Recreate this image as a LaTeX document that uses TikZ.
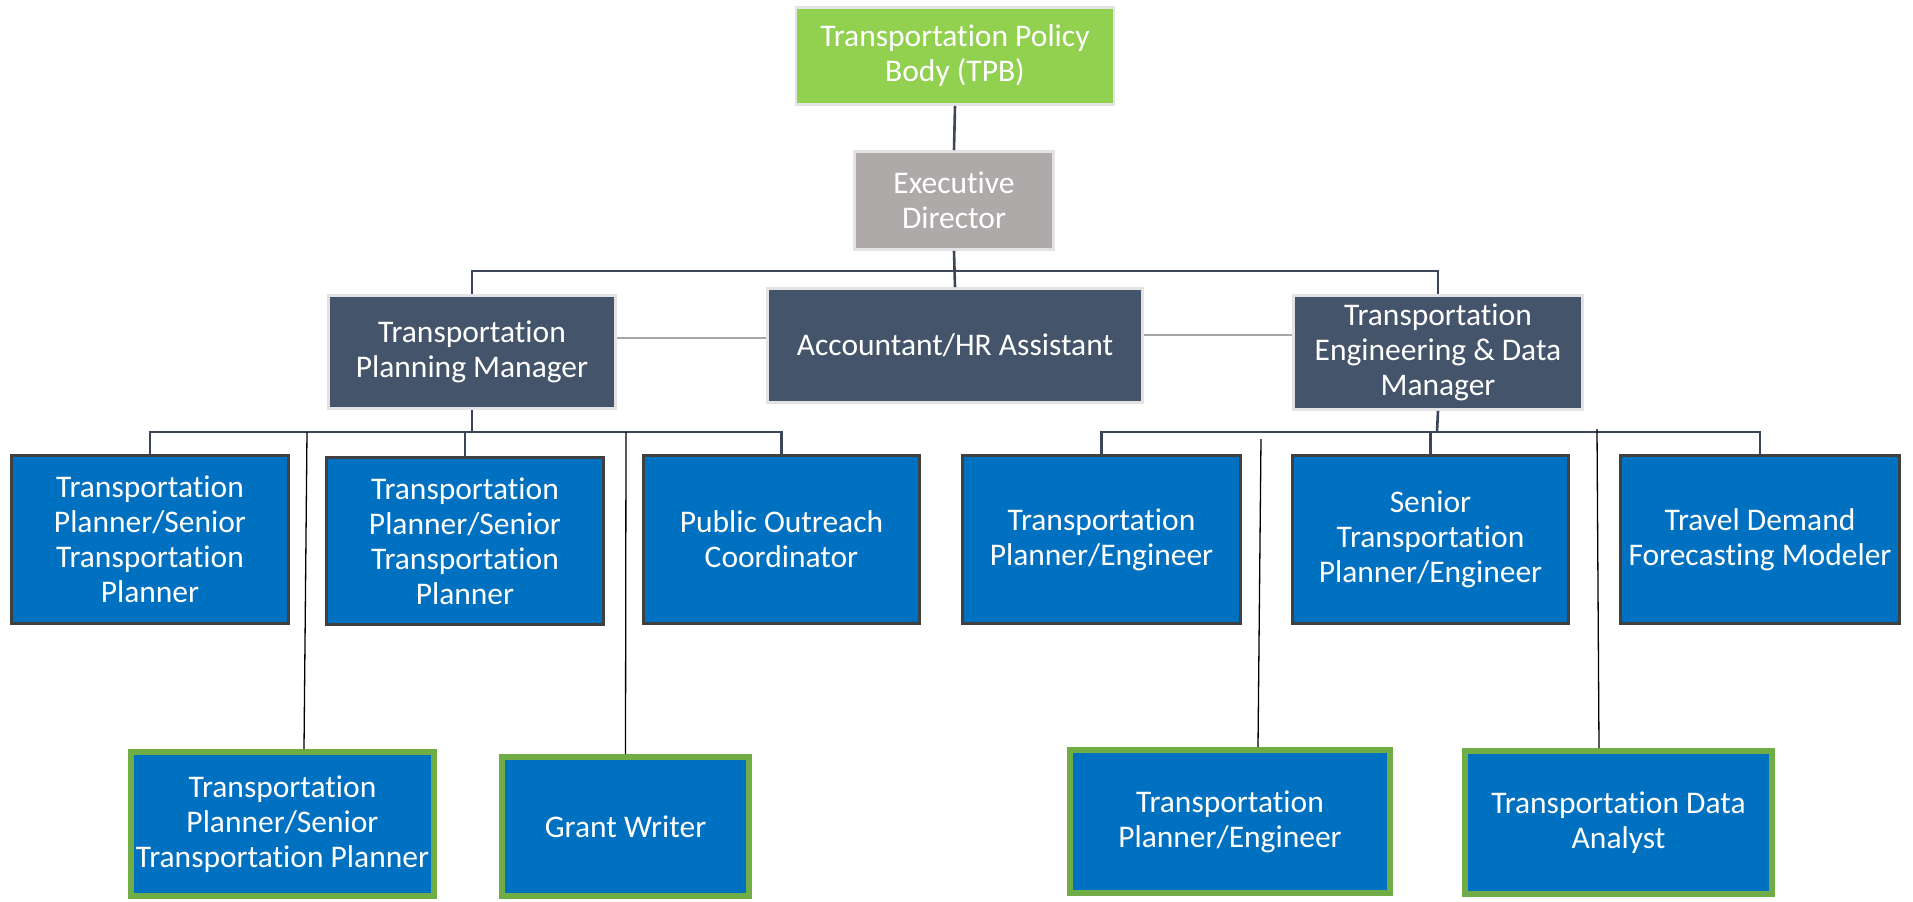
\documentclass[tikz,border=0pt]{standalone}
\usepackage{fontspec}
\setmainfont{Carlito}[Ligatures={NoCommon,NoContextual,NoRare}, RawFeature={-liga}]
\usetikzlibrary{calc}

\definecolor{policygreen}{HTML}{92D050}
\definecolor{directorgray}{HTML}{AEAAAA}
\definecolor{slate}{HTML}{44546A}
\definecolor{linkslate}{HTML}{3B4759}
\definecolor{staffblue}{HTML}{0070C0}
\definecolor{staffedge}{HTML}{404040}
\definecolor{newedge}{HTML}{70AD47}
\definecolor{paleedge}{HTML}{E3E3E3}
\definecolor{peerline}{HTML}{A6A6A6}

\tikzset{
  org/.style={rectangle, align=center, text=white, inner sep=2pt,
    font=\fontsize{15.75pt}{17.5pt}\selectfont},
  wh/.style 2 args={minimum width=#1*0.5pt, minimum height=#2*0.5pt},
  topbox/.style={org, fill=#1, draw=paleedge, line width=1.4pt},
  staffbox/.style={org, fill=staffblue, draw=staffedge, line width=1.5pt},
  newbox/.style={org, fill=staffblue, draw=newedge, line width=3pt},
  conn/.style={draw=linkslate, line width=1.3pt},
  peer/.style={draw=peerline, line width=0.8pt},
  thin/.style={draw=black, line width=0.65pt},
}

\begin{document}
\begin{tikzpicture}[x=0.5pt, y=-0.5pt]
\useasboundingbox[fill=white] (0,0) rectangle (1913,901);

% leadership
\node[topbox=policygreen, wh={318}{97}] (tpb) at (955,56) {Transportation Policy\\Body (TPB)};
\node[topbox=directorgray, wh={199}{98}] (ed) at (954,200.5) {Executive\\Director};

% managers and administration
\node[topbox=slate, wh={287}{113}] (tpm) at (472,352) {Transportation\\Planning Manager};
\node[topbox=slate, wh={375}{114}] (acc) at (955,345.5) {Accountant/HR Assistant};
\node[topbox=slate, wh={289}{114}] (tedm) at (1438,352.5) {Transportation\\Engineering \& Data\\Manager};

% planning staff
\node[staffbox, wh={277}{168}] (c1) at (150,539.5) {Transportation\\Planner/Senior\\Transportation\\Planner};
\node[staffbox, wh={277}{167}] (c2) at (465,541) {Transportation\\Planner/Senior\\Transportation\\Planner};
\node[staffbox, wh={276}{168}] (c3) at (781.5,539.5) {Public Outreach\\Coordinator};

% engineering and data staff
\node[staffbox, wh={278}{168}] (c4) at (1101.5,539.5) {Transportation\\Planner/Engineer};
\node[staffbox, wh={276}{168}] (c5) at (1430.5,539.5) {Senior\\Transportation\\Planner/Engineer};
\node[staffbox, wh={279}{168}] (c6) at (1760,539.5) {Travel Demand\\Forecasting Modeler};

% proposed positions
\node[newbox, wh={303}{144}] (b1) at (282.5,824) {Transportation\\Planner/Senior\\Transportation Planner};
\node[newbox, wh={247}{139}] (b2) at (625.5,826.5) {Grant Writer};
\node[newbox, wh={320}{143}] (b3) at (1230,821.5) {Transportation\\Planner/Engineer};
\node[newbox, wh={307}{143}] (b4) at (1618.5,822.5) {Transportation Data\\Analyst};

% reporting lines
\coordinate (tbus) at (955,271);
\coordinate (lbus) at (472,432);
\coordinate (rbus) at (1437,432);

\draw[conn] (tpb.south) -- (ed.north);
\draw[conn] (ed.south) -- (acc.north);
\draw[conn] (tpm.north) -- (tpm.north |- tbus) -- (tedm.north |- tbus) -- (tedm.north);

\draw[conn] (tpm.south) -- (lbus);
\draw[conn] (c1.north) -- (c1.north |- lbus) -- (c3.north |- lbus) -- (c3.north);
\draw[conn] (c2.north) -- (c2.north |- lbus);

\draw[conn] (tedm.south) -- (rbus);
\draw[conn] (c4.north) -- (c4.north |- rbus) -- (c6.north |- rbus) -- (c6.north);
\draw[conn] (c5.north) -- (c5.north |- rbus);

% peer links
\coordinate (pl) at (0,338);
\coordinate (pr) at (0,335);
\draw[peer] (tpm.east |- pl) -- (acc.west |- pl);
\draw[peer] (acc.east |- pr) -- (tedm.west |- pr);

% lines to proposed positions
\coordinate (g1) at (307,432);
\coordinate (g2) at (626,432);
\coordinate (g3) at (1261,439);
\coordinate (g4) at (1597,429);
\draw[thin] (g1) -- ([xshift=10.75pt]b1.north);
\draw[thin] (g2) -- (b2.north);
\draw[thin] (g3) -- ([xshift=14pt]b3.north);
\draw[thin] (g4) -- ([xshift=-9.75pt]b4.north);
\end{tikzpicture}
\end{document}
